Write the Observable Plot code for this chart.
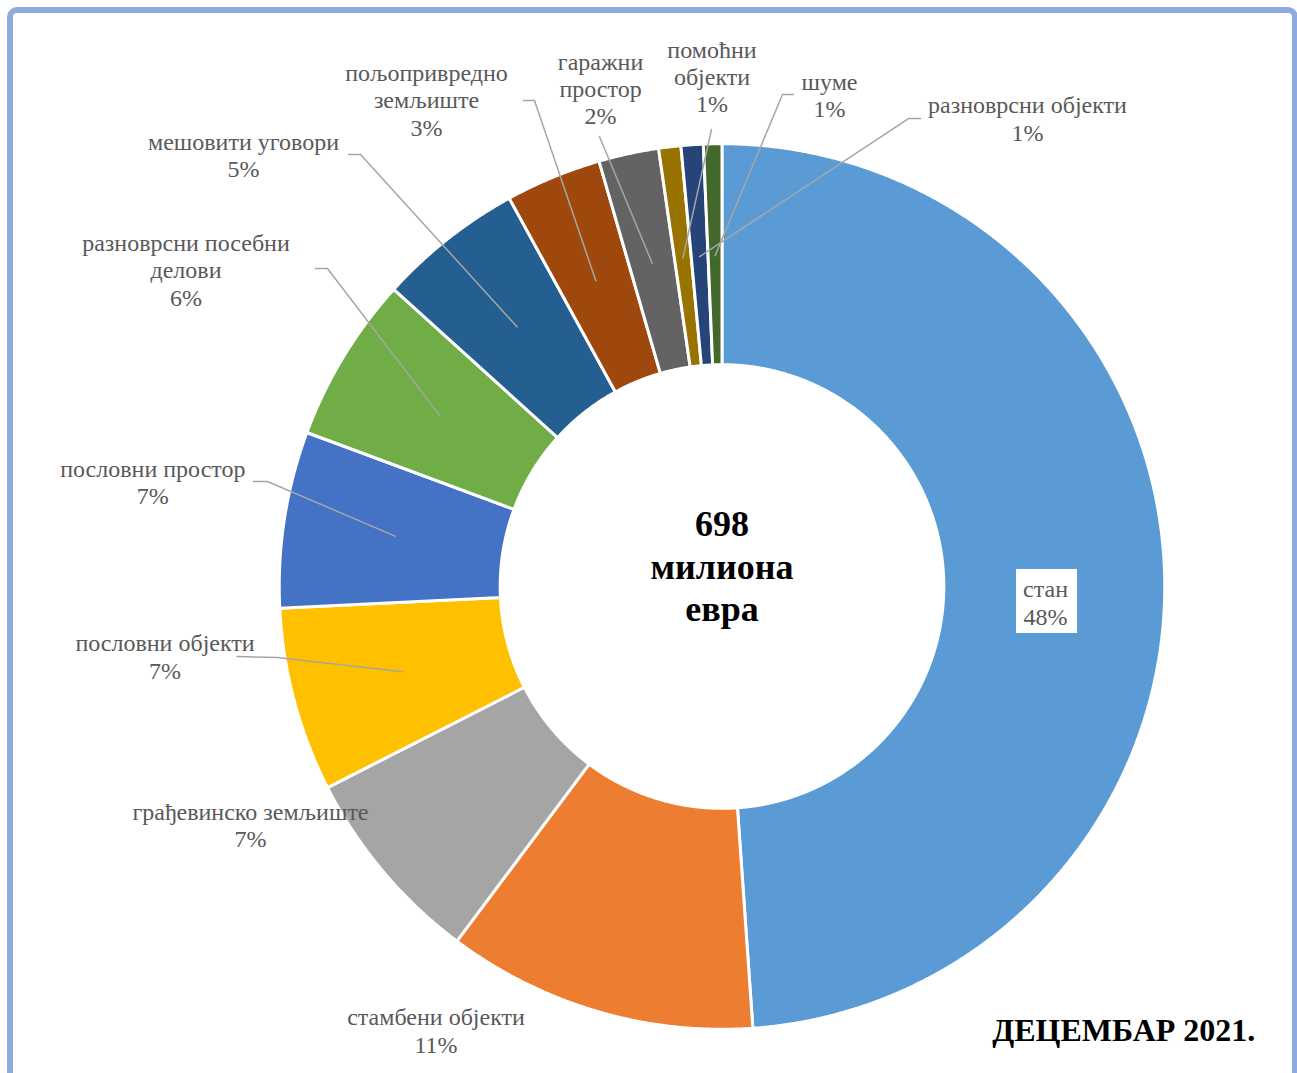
<!DOCTYPE html>
<html><head><meta charset="utf-8">
<script src="https://cdn.jsdelivr.net/npm/d3@7"></script>
<script src="https://cdn.jsdelivr.net/npm/@observablehq/plot@0.6"></script>
<style>
html,body{margin:0;padding:0;background:#fff;overflow:hidden;width:1297px;height:1073px;}
#frame{position:absolute;left:7px;top:7px;width:1279px;height:1100px;border:6px solid #8FAADC;border-radius:10px;box-sizing:content-box;}
#chart{position:absolute;left:0;top:0;}
</style></head><body>
<div id="frame"></div>
<div id="chart"></div>
<script>
// ---- data ----
const categories = ["стан","стамбени објекти","грађевинско земљиште","пословни објекти","пословни простор","разноврсни посебни делови","мешовити уговори","пољопривредно земљиште","гаражни простор","помоћни објекти","разноврсни објекти","шуме"];
const values = [48.9, 11.33, 7.28, 6.72, 6.44, 6.06, 5.31, 3.5, 2.19, 0.81, 0.81, 0.67];
const percentLabels = ["48%","11%","7%","7%","7%","6%","5%","3%","2%","1%","1%","1%"];
const colors = ["#5B9BD5","#ED7D31","#A5A5A5","#FFC000","#4472C4","#70AD47","#255E91","#9E480E","#636363","#997300","#264478","#43682B"];
const displayNames = ["стан","стамбени објекти","грађевинско земљиште","пословни објекти","пословни простор","разноврсни посебни\nделови","мешовити уговори","пољопривредно\nземљиште","гаражни\nпростор","помоћни\nобјекти","разноврсни објекти","шуме"];
const totalLabel = "698\nмилиона\nевра";
const periodLabel = "ДЕЦЕМБАР 2021.";

// ---- layout (in units of the outer radius, relative to the donut centre) ----
const labelLayout = [
  {x: 0.7336, y: -0.036},
  {x: -0.6485, y: -1.006},
  {x: -1.0692, y: -0.540},
  {x: -1.2630, y: -0.158, leader: [[-1.0998,-0.1587],[-1.0079,-0.1610]]},
  {x: -1.2907, y: 0.238, leader: [[-1.0624,0.2381],[-1.0306,0.2381]]},
  {x: -1.2154, y: 0.719, leader: [[-0.9218,0.7211],[-0.8946,0.7211]]},
  {x: -1.0850, y: 0.979, leader: [[-0.8469,0.9796],[-0.8197,0.9796]]},
  {x: -0.6701, y: 1.104, leader: [[-0.4501,1.1020],[-0.4252,1.1020]]},
  {x: -0.2755, y: 1.130, leader: [[-0.2778,1.0204]]},
  {x: -0.0227, y: 1.157, leader: [[-0.0238,1.0363]]},
  {x: 0.6927, y: 1.062, leader: [[0.4501,1.0612],[0.4229,1.0612]]},
  {x: 0.2438, y: 1.115, leader: [[0.1621,1.1156],[0.1372,1.1156]]}
];
const OUTER = 1.004, INNER = 0.503, LEAD = 0.75;
const FONT = "'Liberation Serif','Times New Roman',serif";

const pie = d3.pie().sort(null).value(d => d)(values);
const slices = pie.map((p, i) => ({category: categories[i], a0: p.startAngle, a1: p.endAngle, mid: (p.startAngle + p.endAngle) / 2}));
const pt = (a, r) => [r * Math.sin(a), r * Math.cos(a)];

const slicePts = slices.flatMap(s => {
  const n = Math.max(2, Math.ceil((s.a1 - s.a0) / 0.004));
  const arr = [];
  for (let k = 0; k <= n; k++) { const [x, y] = pt(s.a0 + (s.a1 - s.a0) * k / n, OUTER); arr.push({category: s.category, x, y}); }
  for (let k = n; k >= 0; k--) { const [x, y] = pt(s.a0 + (s.a1 - s.a0) * k / n, INNER); arr.push({category: s.category, x, y}); }
  arr.push({...arr[0]});
  return arr;
});

const leaderPts = [];
labelLayout.forEach((L, i) => {
  if (!L.leader) return;
  L.leader.forEach(([x, y]) => leaderPts.push({id: i, x, y}));
  const [ex, ey] = pt(slices[i].mid, LEAD);
  leaderPts.push({id: i, x: ex, y: ey});
});

const labels = categories.map((c, i) => ({x: labelLayout[i].x, y: labelLayout[i].y, text: displayNames[i] + "\n" + percentLabels[i]}));
const stanBox = [{x1: 0.737 - 0.0692, x2: 0.737 + 0.0692, y1: -0.034 - 0.0726, y2: -0.034 + 0.0726}];

const chart = Plot.plot({
  width: 1297,
  height: 1073,
  margin: 0,
  style: {background: "transparent", fontFamily: FONT},
  x: {domain: [-1, 1], range: [280.5, 1162.5], axis: null},
  y: {domain: [-1, 1], range: [1027, 145], axis: null},
  color: {domain: categories, range: colors},
  marks: [
    Plot.line(slicePts, {x: "x", y: "y", z: "category", fill: "category", stroke: "white", strokeWidth: 3, strokeLinejoin: "miter", curve: "linear"}),
    Plot.rect(stanBox, {x1: "x1", x2: "x2", y1: "y1", y2: "y2", fill: "white"}),
    Plot.line(leaderPts, {x: "x", y: "y", z: "id", stroke: "#A6A6A6", strokeWidth: 1.5}),
    Plot.text(labels, {x: "x", y: "y", text: "text", fontSize: 24, fontFamily: FONT, fill: "#595959", lineHeight: 1.14, lineAnchor: "middle", textAnchor: "middle"}),
    Plot.text([{x: 0, y: 0.048, t: totalLabel}], {x: "x", y: "y", text: "t", fontSize: 36, fontWeight: "bold", fontFamily: FONT, fill: "#000", lineHeight: 1.18, lineAnchor: "middle", textAnchor: "middle"}),
    Plot.text([{x: 0.911, y: -1.0077, t: periodLabel}], {x: "x", y: "y", text: "t", fontSize: 32, fontWeight: "bold", fontFamily: FONT, fill: "#000", lineAnchor: "middle", textAnchor: "middle"})
  ]
});
document.getElementById("chart").appendChild(chart);
</script>
</body></html>
